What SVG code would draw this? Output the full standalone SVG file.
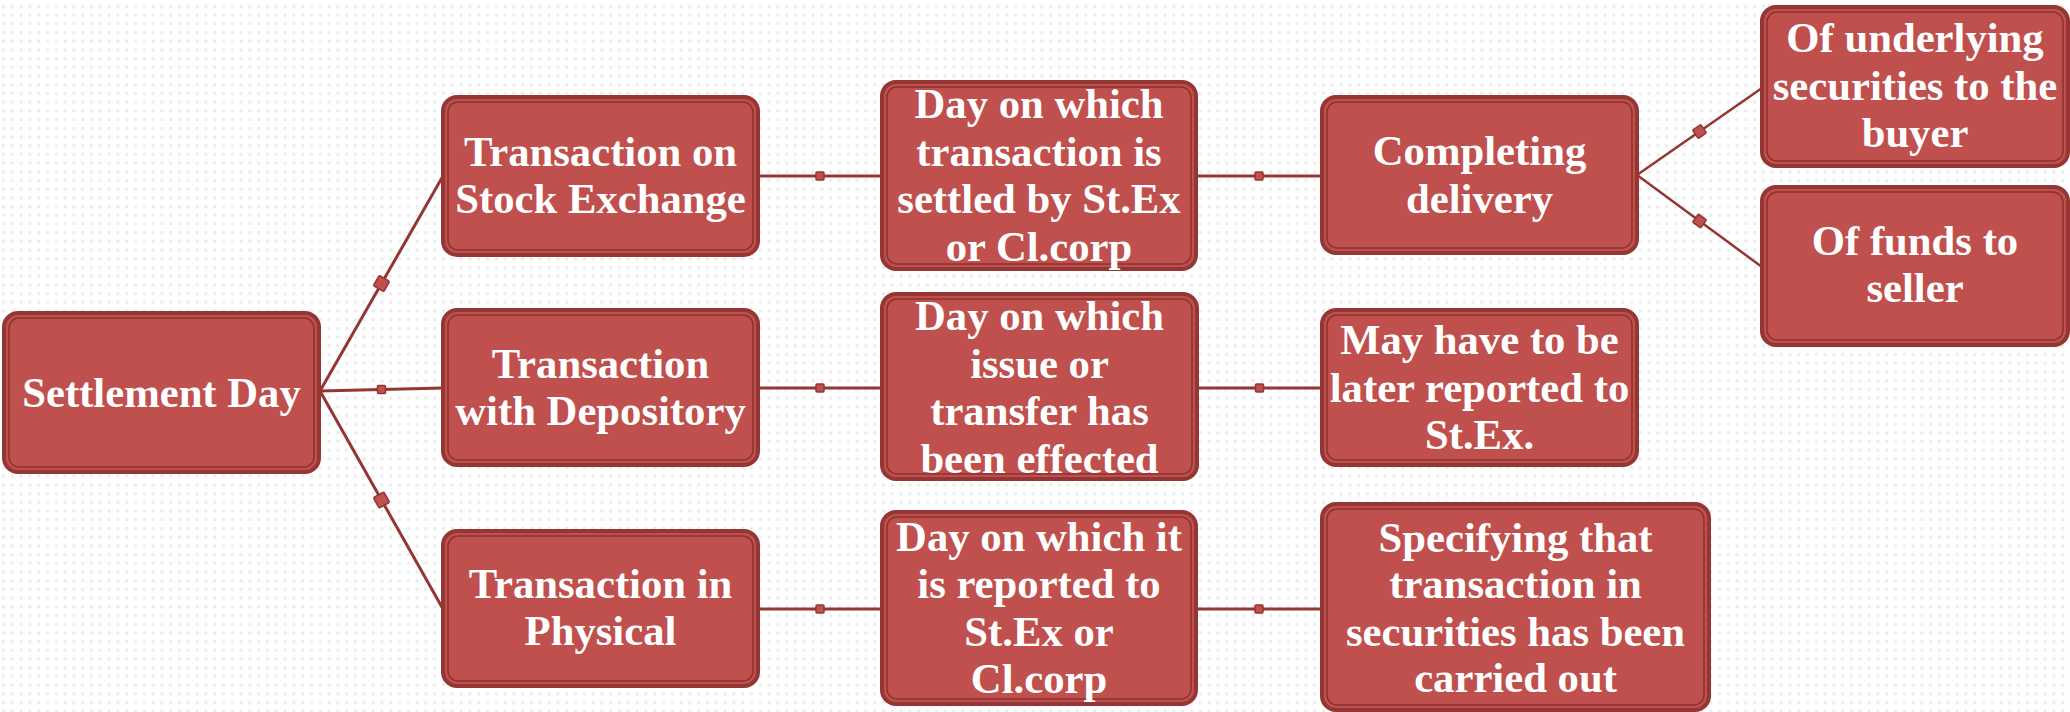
<svg xmlns="http://www.w3.org/2000/svg" width="2070" height="712" viewBox="0 0 2070 712">
<defs>
<pattern id="dots" width="8.8" height="8.7" patternUnits="userSpaceOnUse">
<rect x="2" y="5" width="3" height="3" fill="#ececec"/>
</pattern>
<marker id="mBig" markerUnits="userSpaceOnUse" markerWidth="16" markerHeight="16" refX="8" refY="8" orient="auto">
<rect x="2" y="2" width="12" height="12" rx="1.5" fill="#c0504d" stroke="#943634" stroke-width="1.5"/>
</marker>
<marker id="mSmall" markerUnits="userSpaceOnUse" markerWidth="12" markerHeight="12" refX="6" refY="6" orient="auto">
<rect x="2" y="2" width="8" height="8" rx="1" fill="#c0504d" stroke="#943634" stroke-width="1.5"/>
</marker>
<marker id="mMid" markerUnits="userSpaceOnUse" markerWidth="14" markerHeight="14" refX="7" refY="7" orient="auto">
<rect x="2" y="2" width="10" height="10" rx="1" fill="#c0504d" stroke="#943634" stroke-width="1.5"/>
</marker>
</defs>
<style>
.box{fill:#c0504d;stroke:#943634;stroke-width:4}
.inner{fill:none;stroke:#8a3230;stroke-width:1.5}
.lbl{font-family:"Liberation Serif","Times New Roman",serif;font-weight:bold;font-size:42.7px;fill:#ffffff;text-anchor:middle}
.c{fill:none;stroke:#943634;stroke-width:3}
.c2{fill:none;stroke:#943634;stroke-width:2.5}
</style>
<rect width="2070" height="712" fill="#ffffff"/>
<rect width="2070" height="712" fill="url(#dots)"/>

<g id="connectors">
<polyline class="c" points="320,391 381.5,283.5 443,176" marker-mid="url(#mBig)"/>
<polyline class="c" points="320,391 381.5,389.5 443,388" marker-mid="url(#mSmall)"/>
<polyline class="c" points="320,391 381.5,500 443,609" marker-mid="url(#mBig)"/>
<polyline class="c" points="758,176 820,176 882,176" marker-mid="url(#mSmall)"/>
<polyline class="c" points="1196,176 1259,176 1322,176" marker-mid="url(#mSmall)"/>
<polyline class="c" points="758,388 820,388 882,388" marker-mid="url(#mSmall)"/>
<polyline class="c" points="1197,388 1259.5,388 1322,388" marker-mid="url(#mSmall)"/>
<polyline class="c" points="758,609 820,609 882,609" marker-mid="url(#mSmall)"/>
<polyline class="c" points="1196,609 1259,609 1322,609" marker-mid="url(#mSmall)"/>
<polyline class="c2" points="1637,175 1699.5,131.5 1762,88" marker-mid="url(#mMid)"/>
<polyline class="c2" points="1637,175 1699.5,221 1762,267" marker-mid="url(#mMid)"/>
</g>

<g id="settlement-day">
<rect class="box" x="4" y="313" width="315" height="159" rx="14"/>
<rect class="inner" x="9" y="318" width="305" height="149" rx="10"/>
<text class="lbl" x="161.5" y="407">Settlement Day</text>
</g>

<g id="transaction-stock-exchange">
<rect class="box" x="443" y="97" width="315" height="158" rx="14"/>
<rect class="inner" x="448" y="102" width="305" height="148" rx="10"/>
<text class="lbl" x="600.5" y="166">Transaction on</text>
<text class="lbl" x="600.5" y="213">Stock Exchange</text>
</g>

<g id="transaction-depository">
<rect class="box" x="443" y="310" width="315" height="155" rx="14"/>
<rect class="inner" x="448" y="315" width="305" height="145" rx="10"/>
<text class="lbl" x="600.5" y="378">Transaction</text>
<text class="lbl" x="600.5" y="425">with Depository</text>
</g>

<g id="transaction-physical">
<rect class="box" x="443" y="531" width="315" height="155" rx="14"/>
<rect class="inner" x="448" y="536" width="305" height="145" rx="10"/>
<text class="lbl" x="600.5" y="598">Transaction in</text>
<text class="lbl" x="600.5" y="645">Physical</text>
</g>

<g id="day-settled">
<rect class="box" x="882" y="82" width="314" height="187" rx="14"/>
<rect class="inner" x="887" y="87" width="304" height="177" rx="10"/>
<text class="lbl" x="1039" y="118">Day on which</text>
<text class="lbl" x="1039" y="165.7">transaction is</text>
<text class="lbl" x="1039" y="213.4">settled by St.Ex</text>
<text class="lbl" x="1039" y="261">or Cl.corp</text>
</g>

<g id="day-issue">
<rect class="box" x="882" y="294" width="315" height="185" rx="14"/>
<rect class="inner" x="887" y="299" width="305" height="175" rx="10"/>
<text class="lbl" x="1039.5" y="330">Day on which</text>
<text class="lbl" x="1039.5" y="378">issue or</text>
<text class="lbl" x="1039.5" y="425">transfer has</text>
<text class="lbl" x="1039.5" y="473">been effected</text>
</g>

<g id="day-reported">
<rect class="box" x="882" y="512" width="314" height="192" rx="14"/>
<rect class="inner" x="887" y="517" width="304" height="182" rx="10"/>
<text class="lbl" x="1039" y="551">Day on which it</text>
<text class="lbl" x="1039" y="598">is reported to</text>
<text class="lbl" x="1039" y="646">St.Ex or</text>
<text class="lbl" x="1039" y="693">Cl.corp</text>
</g>

<g id="completing-delivery">
<rect class="box" x="1322" y="97" width="315" height="156" rx="14"/>
<rect class="inner" x="1327" y="102" width="305" height="146" rx="10"/>
<text class="lbl" x="1479.5" y="165">Completing</text>
<text class="lbl" x="1479.5" y="212.5">delivery</text>
</g>

<g id="may-report">
<rect class="box" x="1322" y="310" width="315" height="155" rx="14"/>
<rect class="inner" x="1327" y="315" width="305" height="145" rx="10"/>
<text class="lbl" x="1479.5" y="354">May have to be</text>
<text class="lbl" x="1479.5" y="401.5">later reported to</text>
<text class="lbl" x="1479.5" y="449">St.Ex.</text>
</g>

<g id="specifying">
<rect class="box" x="1322" y="504" width="387" height="206" rx="14"/>
<rect class="inner" x="1327" y="509" width="377" height="196" rx="10"/>
<text class="lbl" x="1515.5" y="552">Specifying that</text>
<text class="lbl" x="1515.5" y="598">transaction in</text>
<text class="lbl" x="1515.5" y="646">securities has been</text>
<text class="lbl" x="1515.5" y="692">carried out</text>
</g>

<g id="underlying-securities">
<rect class="box" x="1762" y="7" width="306" height="159" rx="14"/>
<rect class="inner" x="1767" y="12" width="296" height="149" rx="10"/>
<text class="lbl" x="1915" y="52">Of underlying</text>
<text class="lbl" x="1915" y="99.5">securities to the</text>
<text class="lbl" x="1915" y="147">buyer</text>
</g>

<g id="funds-seller">
<rect class="box" x="1762" y="187" width="306" height="158" rx="14"/>
<rect class="inner" x="1767" y="192" width="296" height="148" rx="10"/>
<text class="lbl" x="1915" y="255">Of funds to</text>
<text class="lbl" x="1915" y="302">seller</text>
</g>
</svg>
